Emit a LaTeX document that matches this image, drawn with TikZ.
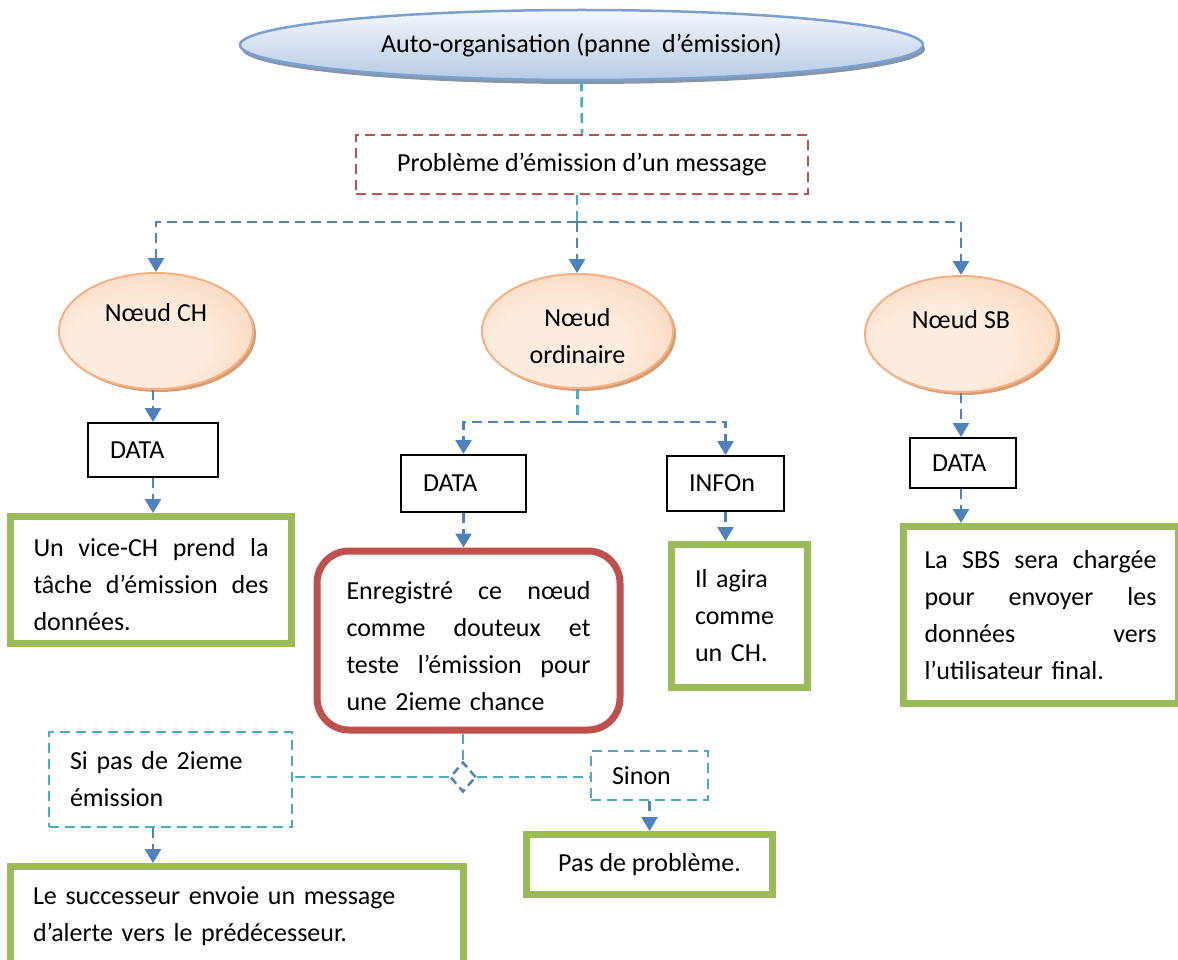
\documentclass[tikz,border=0pt]{standalone}
\usepackage{fontspec}
\setmainfont{Carlito}
\usetikzlibrary{arrows.meta,shapes.geometric,shadows}

\definecolor{linkblue}{HTML}{4F81BD}
\definecolor{linkcyan}{HTML}{4BACC6}
\definecolor{boxred}{HTML}{C0504D}
\definecolor{boxgreen}{HTML}{9BBB59}
\definecolor{peachlight}{HTML}{FDEBDD}
\definecolor{peachdark}{HTML}{F7C197}
\definecolor{peachedge}{HTML}{F4B183}
\definecolor{peachshadow}{HTML}{D99B70}
\definecolor{skytop}{HTML}{F4F7FC}
\definecolor{skybottom}{HTML}{B6CAE4}
\definecolor{skyedge}{HTML}{7BA0D0}
\definecolor{skyshadow}{HTML}{8795A8}

% soft peach glow, lighter towards the lower left
\pgfdeclareradialshading{peachglow}{\pgfpoint{-6bp}{-8bp}}{%
  color(0bp)=(peachlight); color(18bp)=(peachlight);
  color(50bp)=(peachdark); color(75bp)=(peachdark)}

% a justified line: the words are spread over the given width
\newcommand\spreadline[2]{\leavevmode\hbox to #1{#2}}
\newcommand\gap{\hfill}

\begin{document}
\begin{tikzpicture}[x=1pt, y=-1pt,
  every node/.style={font=\fontsize{26}{37}\selectfont, inner sep=0pt},
  skynode/.style={ellipse, draw=skyedge, line width=2.5pt,
    top color=skytop, bottom color=skybottom,
    drop shadow={shadow xshift=2pt, shadow yshift=-4pt, fill=skyshadow, opacity=1}},
  peachnode/.style={ellipse, draw=peachedge, line width=2pt, shading=peachglow,
    drop shadow={shadow xshift=3pt, shadow yshift=-3pt, fill=peachshadow, opacity=1}},
  dashbox/.style={draw, line width=2.5pt, dash pattern=on 10pt off 6pt, align=left},
  databox/.style={draw=black, line width=2pt, align=left},
  greenbox/.style={draw=boxgreen, line width=7pt, align=left},
  redbox/.style={draw=boxred, line width=7pt, rounded corners=32pt, align=left},
  link/.style={draw=linkblue, line width=2.7pt, dash pattern=on 10pt off 6pt},
  arrowlink/.style={link, -{Triangle[width=16pt,length=14pt]}},
  tether/.style={link, draw=linkcyan}]

\clip (0,0) rectangle (1178,960);

% title and problem
\node[skynode, minimum width=683pt, minimum height=70pt] (auto) at (581.5,45)
  {Auto-organisation (panne~ d’émission)};
\node[dashbox, draw=boxred, minimum width=452pt, minimum height=59pt] (prob) at (582,164.5)
  {Problème d’émission d’un message};
\draw[tether] (auto.south) -- (prob.north);

% the three kinds of node
\coordinate (split) at (577,222);
\node[peachnode, minimum width=194pt, minimum height=116pt] (ch) at (156,331) {};
\node (chlabel) at (156,313) {Nœud CH};
\node[peachnode, minimum width=191pt, minimum height=114pt] (ord) at (577.5,331) {};
\node[align=center] (ordlabel) at (577.5,336) {Nœud\\ordinaire};
\node[peachnode, minimum width=192pt, minimum height=116pt] (sb) at (961,334) {};
\node (sblabel) at (961,320) {Nœud SB};

\draw[tether] (prob.south -| split) -- (split);
\draw[arrowlink] (split) -| (ch.north);
\draw[arrowlink] (split) -- (split |- ord.north);
\draw[arrowlink] (split) -| (sb.north);

% cluster head branch
\node[databox, text width=86pt, minimum width=130pt, minimum height=54pt] (data1) at (153,450) {DATA};
\draw[arrowlink] (ch.south -| data1.north) -- (data1.north);
\node[greenbox, text width=235pt, text height=27pt, minimum width=281pt, minimum height=127pt] (vice) at (151,580)
  {\spreadline{235pt}{Un\gap vice-CH\gap prend\gap la}\\
   \spreadline{235pt}{tâche\gap d’émission\gap des}\\
   données.};
\draw[arrowlink] (data1.south) -- (data1.south |- vice.north);

% ordinary node branch
\coordinate (split2) at (577,422);
\draw[tether] (ord.south) -- (ord.south |- split2);
\node[databox, text width=81pt, minimum width=125pt, minimum height=57pt] (data2) at (463.5,483.5) {DATA};
\node[databox, text width=73pt, minimum width=117pt, minimum height=55pt] (info) at (725.5,483.5) {INFOn};
\draw[arrowlink] (ord.south |- split2) -| (data2.north);
\draw[arrowlink] (ord.south |- split2) -| (info.north);
\node[redbox, text width=244pt, text height=29pt, minimum width=303pt, minimum height=179pt] (retry) at (468.5,640.5)
  {\spreadline{244pt}{Enregistré\gap ce\gap nœud}\\
   \spreadline{244pt}{comme\gap douteux\gap et}\\
   \spreadline{244pt}{teste\gap l’émission\gap pour}\\
   une 2ieme chance};
\draw[arrowlink] (data2.south) -- (data2.south |- retry.north);
\node[greenbox, text width=89pt, minimum width=136pt, minimum height=143pt] (agira) at (739.5,616)
  {Il agira\\comme\\un CH.};
\draw[arrowlink] (info.south) -- (info.south |- agira.north);

% sink branch
\node[databox, text width=62pt, minimum width=106pt, minimum height=50pt] (data3) at (963,463) {DATA};
\draw[arrowlink] (sb.south) -- (sb.south |- data3.north);
\node[greenbox, text width=232pt, minimum width=275pt, minimum height=177pt] (sbs) at (1040.5,615)
  {\spreadline{232pt}{La\gap SBS\gap sera\gap chargée}\\
   \spreadline{232pt}{pour\gap envoyer\gap les}\\
   \spreadline{232pt}{données\gap vers}\\
   l’utilisateur final.};
\draw[arrowlink] (sb.south |- data3.south) -- (sb.south |- sbs.north);

% second chance outcome
\node[diamond, draw=linkblue, line width=2.5pt, dash pattern=on 8pt off 5pt,
  minimum width=26pt, minimum height=30pt] (junction) at (463,777) {};
\draw[tether] (retry.south -| junction) -- (junction.north);
\node[dashbox, draw=linkcyan, text width=201pt, minimum width=243pt, minimum height=95pt] (nosecond) at (170.5,779.5)
  {Si pas de 2ieme\\émission};
\node[dashbox, draw=linkcyan, text width=75pt, minimum width=117pt, minimum height=49pt] (otherwise) at (649.5,775.5)
  {Sinon};
\draw[tether] (junction.west) -- (junction.west -| nosecond.east);
\draw[tether] (junction.east) -- (junction.east -| otherwise.west);
\node[greenbox, minimum width=246pt, minimum height=60pt] (fine) at (649.5,864.5) {Pas de problème.};
\draw[arrowlink] (otherwise.south) -- (otherwise.south |- fine.north);
\node[greenbox, text width=407pt, minimum width=453pt, minimum height=98.5pt] (alert) at (236.5,915.75)
  {Le successeur envoie un message\\d’alerte vers le prédécesseur.};
\draw[arrowlink] (nosecond.south -| data1.south) -- (data1.south |- alert.north);

\end{tikzpicture}
\end{document}
